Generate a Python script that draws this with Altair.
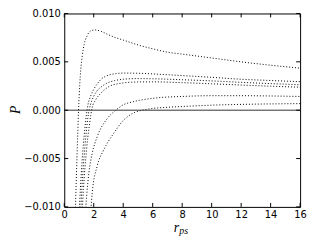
import altair as alt
import pandas as pd

# ---- data (P values) ----
r1 = [0.74, 0.80, 0.86, 0.92, 0.97, 1.05, 1.12, 1.22, 1.35, 1.55, 1.8, 2.1, 2.5, 3.0, 3.4, 4.0, 4.5, 5.0, 6.0, 7.0, 8.0, 10.0, 12.0, 14.0, 16.0]
p1 = [-0.011, -0.008, -0.005, -0.0022, 0.0, 0.0026, 0.0042, 0.0056, 0.0068, 0.0077, 0.0082, 0.0083, 0.00815, 0.0078, 0.00755, 0.00725, 0.0070, 0.00675, 0.00635, 0.0060, 0.0058, 0.0054, 0.0050, 0.00465, 0.00435]

r2 = [1.0, 1.1, 1.2, 1.3, 1.4, 1.5, 1.6, 1.8, 2.0, 2.25, 2.5, 2.8, 3.1, 3.5, 4.0, 5.0, 6.0, 8.0, 10.0, 12.0, 14.0, 16.0]
p2 = [-0.011, -0.008, -0.0055, -0.0035, -0.0019, -0.0005, 0.0005, 0.0015, 0.00215, 0.00275, 0.0032, 0.0035, 0.00367, 0.00378, 0.00384, 0.00382, 0.00375, 0.00358, 0.0034, 0.0032, 0.00307, 0.00295]

r3 = [1.1, 1.2, 1.3, 1.4, 1.5, 1.6, 1.7, 1.85, 2.0, 2.2, 2.5, 2.9, 3.4, 4.0, 5.0, 6.0, 8.0, 10.0, 12.0, 14.0, 16.0]
p3 = [-0.011, -0.008, -0.0057, -0.0038, -0.0022, -0.0008, 0.0001, 0.0009, 0.00145, 0.00195, 0.0024, 0.0028, 0.00305, 0.0032, 0.00327, 0.00325, 0.00315, 0.00303, 0.00288, 0.00275, 0.00263]

r4 = [1.2, 1.3, 1.4, 1.5, 1.6, 1.7, 1.8, 1.9, 2.1, 2.45, 2.8, 3.1, 3.6, 4.0, 5.0, 6.0, 8.0, 10.0, 12.0, 14.0, 16.0]
p4 = [-0.011, -0.0082, -0.006, -0.0043, -0.0028, -0.0016, -0.0005, 0.0003, 0.0010, 0.0017, 0.0022, 0.0025, 0.00272, 0.00282, 0.00292, 0.00293, 0.00285, 0.00273, 0.0026, 0.00248, 0.00238]

r5 = [1.42, 1.52, 1.67, 1.9, 2.23, 2.9, 3.5, 4.0, 4.6, 5.1, 6.3, 8.0, 10.0, 12.0, 14.0, 16.0]
p5 = [-0.011, -0.00885, -0.0065, -0.00445, -0.00276, -0.0009, 0.0, 0.00055, 0.00085, 0.00102, 0.00128, 0.00142, 0.0015, 0.0015, 0.00147, 0.00142]

r6 = [1.8, 1.9, 2.23, 2.68, 3.35, 4.0, 4.8, 5.3, 6.0, 7.0, 8.0, 10.0, 12.0, 14.0, 16.0]
p6 = [-0.0105, -0.0085, -0.0058, -0.0041, -0.0024, -0.00107, -0.00022, 0.0, 0.00018, 0.0003, 0.00038, 0.00052, 0.0006, 0.00065, 0.00068]

x_ticks = [0, 2, 4, 6, 8, 10, 12, 14, 16]
y_ticks = [-0.010, -0.005, 0.0, 0.005, 0.010]

rows = []
for name, rs, ps in [("c1", r1, p1), ("c2", r2, p2), ("c3", r3, p3),
                     ("c4", r4, p4), ("c5", r5, p5), ("c6", r6, p6)]:
    for r, p in zip(rs, ps):
        rows.append({"curve": name, "r": r, "P": p})
df = pd.DataFrame(rows)

W, H = 239, 196
xs = alt.Scale(domain=[0, 16], nice=False, zero=False)
ys = alt.Scale(domain=[-0.010, 0.010], nice=False, zero=False)

common = dict(grid=False, ticks=False, tickSize=0, domain=False,
              labelFont="DejaVu Sans", labelFontSize=10, labelColor="black",
              labelFlush=False, labelOverlap=False)
xaxis = alt.Axis(values=x_ticks, format="d", title=None, labelPadding=3, **common)
yaxis = alt.Axis(values=y_ticks, format=".3f", title="P", labelPadding=4,
                 titleFont="Liberation Serif", titleFontStyle="italic",
                 titleFontWeight="normal", titleFontSize=14, titleColor="black",
                 titleX=-49, titleY=97, titleAngle=270, titleAlign="center",
                 titleBaseline="middle", **common)

lines = alt.Chart(df).mark_line(
    color="black", strokeWidth=1, strokeDash=[1, 2], clip=True, interpolate="monotone"
).encode(
    x=alt.X("r:Q", scale=xs, axis=xaxis),
    y=alt.Y("P:Q", scale=ys, axis=yaxis),
    detail="curve:N",
)

zero = alt.Chart(pd.DataFrame({"z": [0.0]})).mark_rule(
    color="#333333", strokeWidth=1
).encode(y=alt.Y("z:Q", scale=ys, axis=yaxis))

xt = pd.DataFrame({"t": x_ticks})
yt = pd.DataFrame({"t": y_ticks})
tick_bottom = alt.Chart(xt).mark_rule(color="black", strokeWidth=1).encode(
    x=alt.X("t:Q", scale=xs, axis=xaxis), y=alt.value(H), y2=alt.value(H - 4))
tick_top = alt.Chart(xt).mark_rule(color="black", strokeWidth=1).encode(
    x=alt.X("t:Q", scale=xs, axis=xaxis), y=alt.value(0), y2=alt.value(4))
tick_left = alt.Chart(yt).mark_rule(color="black", strokeWidth=1).encode(
    y=alt.Y("t:Q", scale=ys, axis=yaxis), x=alt.value(0), x2=alt.value(4))
tick_right = alt.Chart(yt).mark_rule(color="black", strokeWidth=1).encode(
    y=alt.Y("t:Q", scale=ys, axis=yaxis), x=alt.value(W), x2=alt.value(W - 4))

lab = pd.DataFrame({"a": ["r"], "b": ["ps"]})
xlab_r = alt.Chart(lab).mark_text(
    font="Liberation Serif", fontStyle="italic", fontSize=14, align="left",
    baseline="alphabetic", color="black"
).encode(text="a:N", x=alt.value(111), y=alt.value(221))
xlab_ps = alt.Chart(lab).mark_text(
    font="Liberation Serif", fontStyle="italic", fontSize=10, align="left",
    baseline="alphabetic", color="black"
).encode(text="b:N", x=alt.value(116.5), y=alt.value(223.5))

chart = alt.layer(
    lines, zero, tick_bottom, tick_top, tick_left, tick_right, xlab_r, xlab_ps
).properties(
    width=W, height=H,
    autosize=alt.AutoSizeParams(type="none"),
    padding={"left": 57, "top": 4, "right": 8, "bottom": 34},
).configure_view(stroke="black", strokeWidth=1)

chart.save("out.html", embed_options={"renderer": "svg", "actions": False})
